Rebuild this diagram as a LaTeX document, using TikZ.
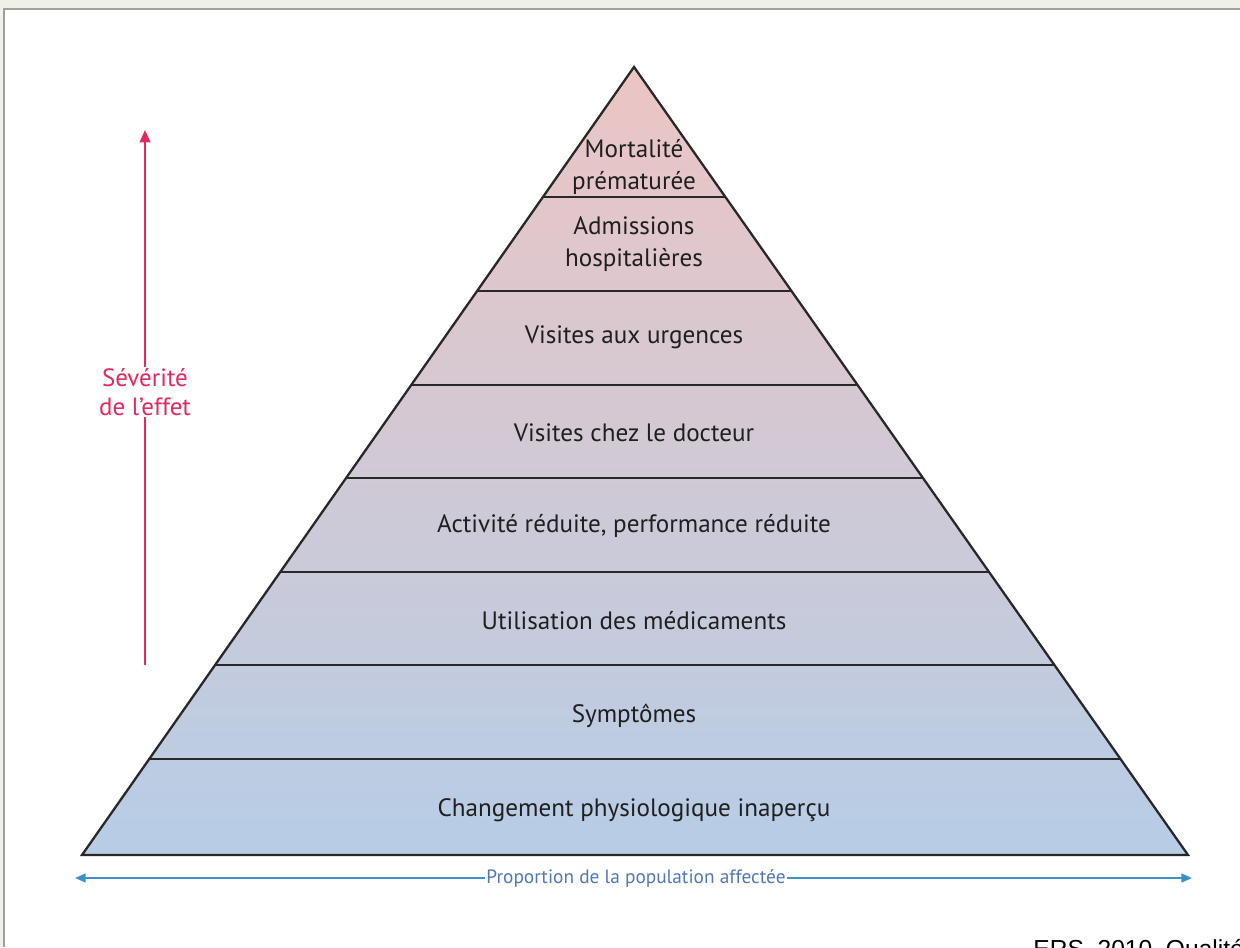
\documentclass[tikz,border=0pt]{standalone}
\usepackage{fontspec}
\setmainfont{PT Sans}
\newfontfamily\arialfont{Liberation Sans}
\usetikzlibrary{arrows.meta}
\definecolor{topc}{RGB}{236,197,196}
\definecolor{botc}{RGB}{182,205,230}
\definecolor{edgec}{RGB}{40,40,40}
\definecolor{sevc}{RGB}{226,40,92}
\definecolor{popc}{RGB}{60,146,200}
\definecolor{poptext}{RGB}{80,120,180}
\definecolor{framebg}{RGB}{240,239,232}
\definecolor{framec}{RGB}{160,160,155}
\tikzset{
  layertext/.style={font=\fontsize{14.3}{16.5}\selectfont, text=black!88, align=center, inner sep=0pt},
  sevtext/.style={font=\fontsize{14.2}{15.5}\selectfont, text=sevc, align=center, fill=white, inner sep=1pt},
  poplabel/.style={font=\fontsize{11}{12}\selectfont, text=poptext, fill=white, inner sep=1pt},
  edge/.style={draw=edgec, line width=1.3pt},
}
\begin{document}
\begin{tikzpicture}[x=0.02cm,y=-0.02cm]
\clip (0,0) rectangle (1240,947);
\fill[white] (0,0) rectangle (1240,947);
% frame
\fill[framebg] (0,0) rectangle (1240,8);
\fill[framebg] (0,0) rectangle (3,947);
\draw[framec, line width=1.2pt] (4,947) -- (4,9) -- (1240,9);
% pyramid
\coordinate (apex) at (634,67);
\coordinate (bl) at (82,855);
\coordinate (br) at (1188,855);
\shade[top color=topc, bottom color=botc] (apex) -- (br) -- (bl) -- cycle;
\foreach \yy in {197,291,385,478,572,665,759}{
  \pgfmathsetmacro{\hw}{0.7018*(\yy-67)}
  \draw[edge] ({634-\hw},\yy) -- ({634+\hw},\yy);
}
\draw[edge, line join=miter] (apex) -- (br) -- (bl) -- cycle;
% texts
\node[layertext] (l1) at (634,167) {Mortalité\\[1.5pt]prématurée};
\node[layertext] (l2) at (634,244) {Admissions\\[1.5pt]hospitalières};
\node[layertext] (l3) at (634,337) {Visites aux urgences};
\node[layertext] (l4) at (634,433) {Visites chez le docteur};
\node[layertext] (l5) at (634,526) {Activité réduite, performance réduite};
\node[layertext] (l6) at (634,621) {Utilisation des médicaments};
\node[layertext] (l7) at (634,716) {Symptômes};
\node[layertext] (l8) at (634,810) {Changement physiologique inaperçu};
% severity arrow
\coordinate (s0) at (145,665);
\coordinate (s1) at (145,130);
\draw[sevc, line width=1pt, -{Triangle[length=7pt,width=6pt]}] (s0) -- (s1);
\node[sevtext] (sev) at (145,392) {Sévérité\\[1pt]de l'effet};
% population arrow
\coordinate (p0) at (75,878);
\coordinate (p1) at (1192,878);
\draw[popc, line width=1pt, {Triangle[length=6pt,width=5pt]}-{Triangle[length=6pt,width=5pt]}] (p0) -- (p1);
\node[poplabel] (pop) at (636,878) {Proportion de la population affectée};
% source
\node[anchor=base west, font=\arialfont\fontsize{14}{16}\selectfont, inner sep=0pt] (src) at (1033,957) {ERS, 2010, Qualité};
\end{tikzpicture}
\end{document}
